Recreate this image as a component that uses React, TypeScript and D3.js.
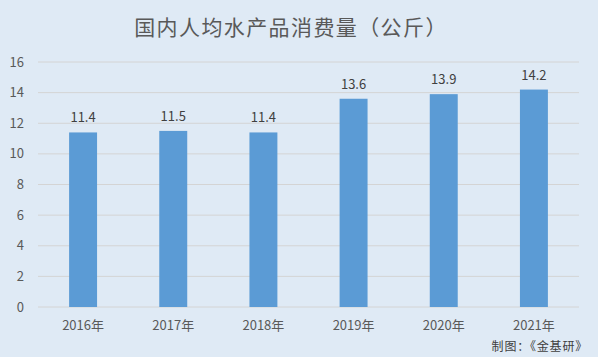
import React from "react";
import * as d3 from "d3";

const categories = ["2016年", "2017年", "2018年", "2019年", "2020年", "2021年"];
const values = [11.4, 11.5, 11.4, 13.6, 13.9, 14.2];
const yTicks = [0, 2, 4, 6, 8, 10, 12, 14, 16];
const title = "国内人均水产品消费量（公斤）";
const source = "制图：《金基研》";

const W = 598;
const H = 357;
const M = { left: 38, right: 579, top: 62, bottom: 307 };
const FONT = "'Noto Sans CJK SC', 'Noto Sans', sans-serif";
const TEXT = "#595959";

export default function App() {
  const x = d3.scaleBand().domain(categories).range([M.left, M.right]).paddingInner(0.69).paddingOuter(0.345);
  const y = d3.scaleLinear().domain([0, 16]).range([M.bottom, M.top]);
  return (
    <svg width={W} height={H} style={{ position: "fixed", left: 0, top: 0, display: "block" }} fontFamily={FONT}>
      <rect x={0} y={0} width={W} height={H} fill="#dfeaf5" />
      <text x={291} y={35} textAnchor="middle" fontSize={21} letterSpacing={1.4} fill={TEXT}>{title}</text>
      {yTicks.map((t) => (
        <g key={t}>
          <line x1={M.left} x2={M.right} y1={y(t)} y2={y(t)} stroke="#d4d4d4" strokeWidth={1} />
          <text x={24} y={y(t) + 4.5} textAnchor="end" fontSize={13} fill={TEXT}>{t}</text>
        </g>
      ))}
      {categories.map((c, i) => (
        <g key={c}>
          <rect x={x(c)} y={y(values[i])} width={x.bandwidth()} height={y(0) - y(values[i])} fill="#5b9bd5" />
          <text x={(x(c) as number) + x.bandwidth() / 2} y={y(values[i]) - 10} textAnchor="middle" fontSize={13} fill="#404040">
            {values[i].toFixed(1)}
          </text>
          <text x={(x(c) as number) + x.bandwidth() / 2} y={330} textAnchor="middle" fontSize={13} fill={TEXT}>{c}</text>
        </g>
      ))}
      <text x={588} y={351} textAnchor="end" fontSize={12} letterSpacing={0.8} fill="#404040">{source}</text>
    </svg>
  );
}
